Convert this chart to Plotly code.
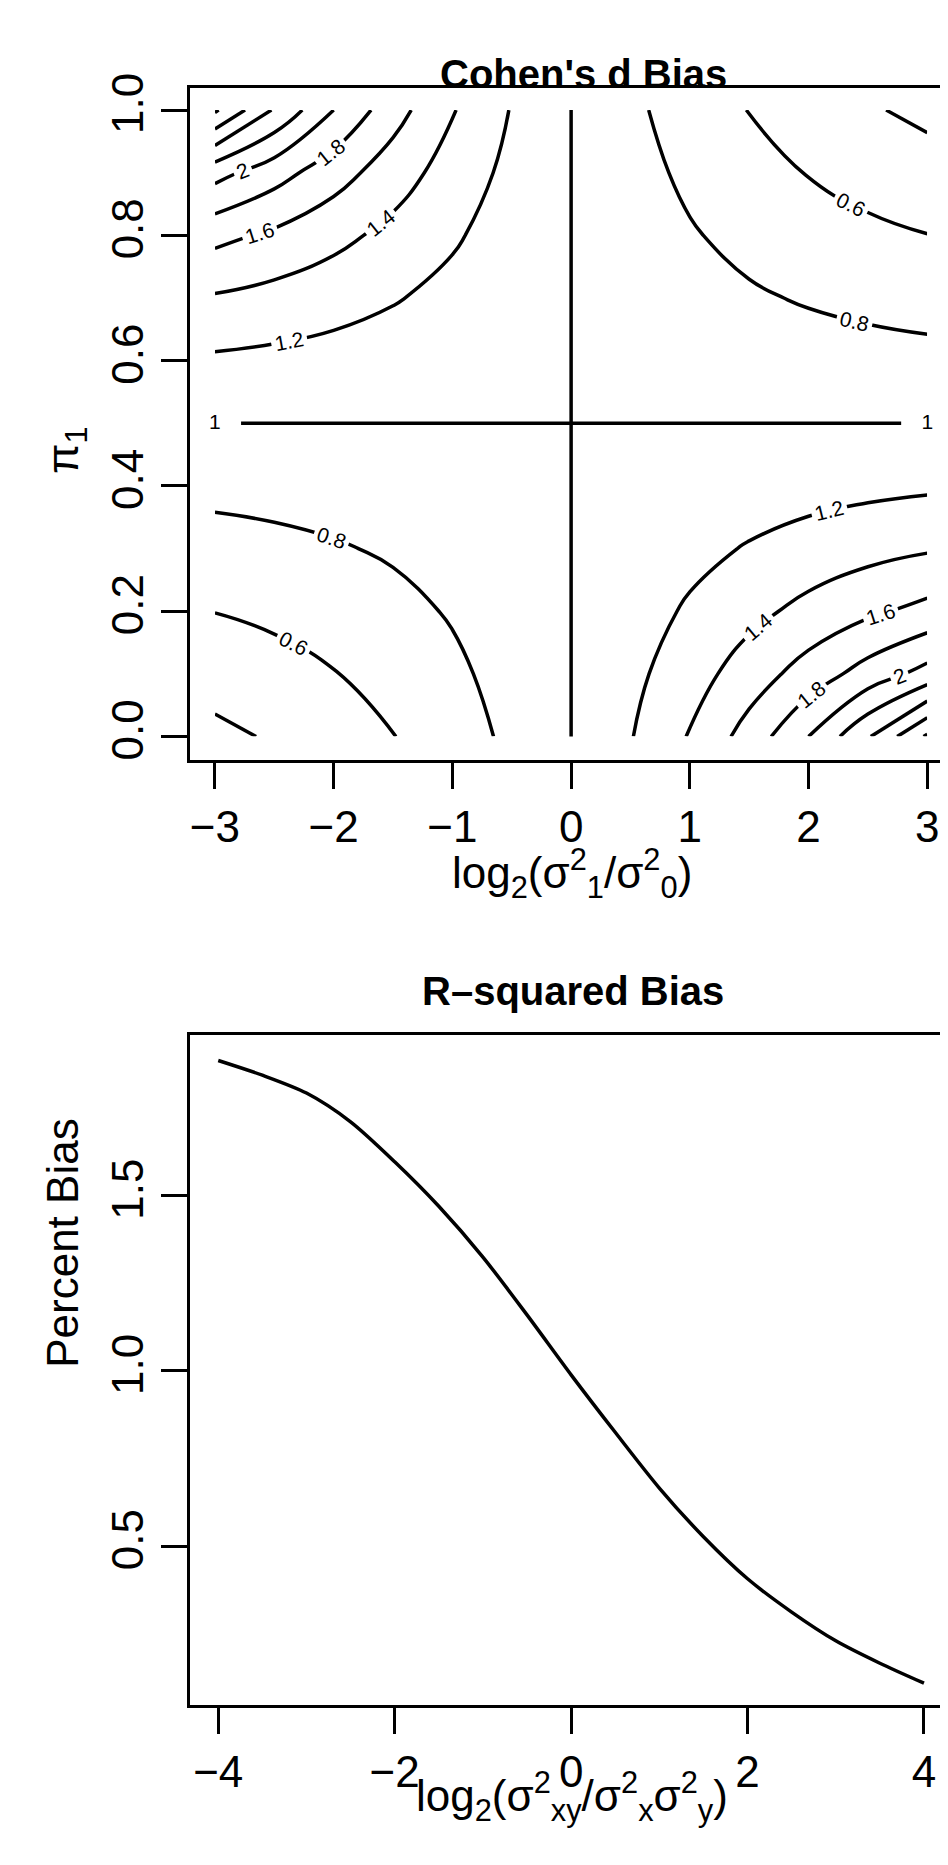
import numpy as np
import plotly.graph_objects as go

# Cohen's d bias surface (quadrant x >= 0, pi1 <= 0.5)
log_var_ratio = [0.0, 0.5, 1.0, 1.5, 2.0, 2.5, 3.0]
pi1_half = [0.0, 0.1, 0.2, 0.3, 0.4, 0.5]
bias_quadrant = [
    [1.0, 1.189, 1.414, 1.682, 2.000, 2.378, 2.828],
    [1.0, 1.148, 1.314, 1.496, 1.687, 1.882, 2.072],
    [1.0, 1.109, 1.225, 1.343, 1.458, 1.564, 1.658],
    [1.0, 1.071, 1.144, 1.214, 1.277, 1.333, 1.380],
    [1.0, 1.035, 1.069, 1.101, 1.128, 1.151, 1.170],
    [1.0, 1.0, 1.0, 1.0, 1.0, 1.0, 1.0],
]
# where the bias equals exactly 1
unbiased_x = 0.0
unbiased_pi1 = 0.5

# R-squared bias curve
rsq_x = [-4, -3.5, -3, -2.5, -2, -1.5, -1, -0.5, 0, 0.5, 1, 1.5, 2, 2.5, 3, 3.5, 4]
rsq_bias = [1.886, 1.844, 1.793, 1.711, 1.597, 1.470, 1.325, 1.160, 0.989, 0.825,
            0.666, 0.527, 0.407, 0.312, 0.230, 0.166, 0.109]

# fill the full grid using the surface's symmetries
q = np.array(bias_quadrant)
xs = [-v for v in log_var_ratio[::-1]] + log_var_ratio[1:]
ys = pi1_half + [1 - p for p in pi1_half[-2::-1]]
lower = np.hstack([1 / q[:, :0:-1], q])
upper = 1 / lower[-2::-1, :]
z = np.vstack([lower, upper])

font = "Liberation Sans, Arial, sans-serif"
fig = go.Figure()
for lo, hi in [(0.4, 0.8), (1.2, 2.8)]:
    fig.add_trace(go.Contour(
        x=xs, y=ys, z=z, xaxis="x", yaxis="y",
        contours=dict(start=lo, end=hi, size=0.2, coloring="lines", showlabels=True,
                      labelfont=dict(size=21, color="black", family=font)),
        colorscale=[[0, "black"], [1, "black"]], showscale=False,
        line=dict(width=3.5, smoothing=1.3), hoverinfo="skip",
    ))
# the bias = 1 contour: a vertical and a horizontal line
fig.add_trace(go.Scatter(x=[unbiased_x, unbiased_x], y=[ys[0], ys[-1]], mode="lines",
                         line=dict(color="black", width=3.5), showlegend=False))
fig.add_trace(go.Scatter(x=[xs[0] + 0.22, xs[-1] - 0.22], y=[unbiased_pi1] * 2, mode="lines",
                         line=dict(color="black", width=3.5), showlegend=False))
fig.add_trace(go.Scatter(x=[xs[0], xs[-1]], y=[unbiased_pi1] * 2, mode="text", text=["1", "1"],
                         textfont=dict(size=21, color="black", family=font), showlegend=False))

fig.add_trace(go.Scatter(x=rsq_x, y=rsq_bias, xaxis="x2", yaxis="y2", mode="lines",
                         line=dict(color="black", width=3.5, shape="spline", smoothing=0.8),
                         showlegend=False))

ax = dict(showline=True, mirror=True, linecolor="black", linewidth=3, ticks="outside",
          ticklen=26, tickwidth=3, tickcolor="black", showgrid=False, zeroline=False,
          tickfont=dict(size=44, color="black", family=font))
fig.update_layout(
    width=948, height=1865, margin=dict(l=0, r=0, t=0, b=0),
    plot_bgcolor="white", paper_bgcolor="white", showlegend=False,
    xaxis=dict(ax, domain=[0.192, 0.996], anchor="y", range=[-3.21, 3.21],
               tickvals=[-3, -2, -1, 0, 1, 2, 3], ticktext=["\u22123", "\u22122", "\u22121", "0", "1", "2", "3"]),
    yaxis=dict(ax, domain=[0.6011, 0.9646], anchor="x", range=[-0.038, 1.036],
               tickvals=[0, 0.2, 0.4, 0.6, 0.8, 1.0], tickformat=".1f", tickangle=-90),
    xaxis2=dict(ax, domain=[0.192, 0.996], anchor="y2", range=[-4.32, 4.32],
                tickvals=[-4, -2, 0, 2, 4], ticktext=["\u22124", "\u22122", "0", "2", "4"]),
    yaxis2=dict(ax, domain=[0.0906, 0.4526], anchor="x2", range=[0.046, 1.958],
                tickvals=[0.5, 1.0, 1.5], tickformat=".1f", tickangle=-90),
)

def note(text, x, y, size=44, angle=0, bold=False):
    if bold:
        text = "<b>" + text + "</b>"
    fig.add_annotation(text=text, x=x / 948, y=1 - y / 1865, xref="paper", yref="paper",
                       showarrow=False, textangle=angle,
                       font=dict(size=size, color="black", family=font))

note("Cohen's d Bias", 575, 28, size=40, bold=True)
note("R\u2013squared Bias", 565, 976, size=40, bold=True)
note("log<sub>2</sub>(\u03c3<sup>2</sup><sub>1</sub>/\u03c3<sup>2</sup><sub>0</sub>)", 564, 858)
note("log<sub>2</sub>(\u03c3<sup>2</sup><sub>xy</sub>/\u03c3<sup>2</sup><sub>x</sub>\u03c3<sup>2</sup><sub>y</sub>)", 564, 1822)
note("\u03c0<sub>1</sub>", 28, 405, angle=-90)
note("Percent Bias", 28, 1358, angle=-90)

fig.write_html("out.html")
